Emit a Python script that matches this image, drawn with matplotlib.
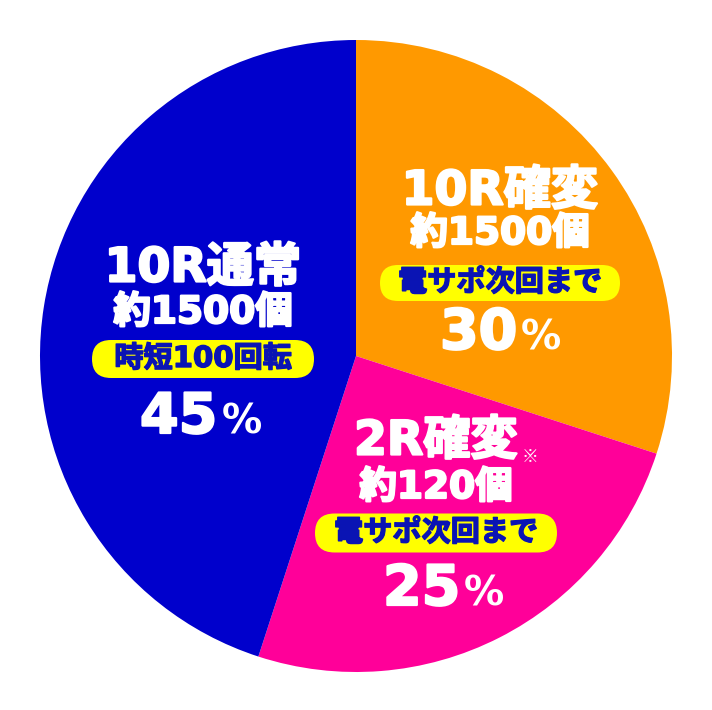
import numpy as np
import matplotlib
matplotlib.use('Agg')
import matplotlib.pyplot as plt
import matplotlib.patheffects as pe
from matplotlib.patches import FancyBboxPatch

# DejaVu for digits/latin (wide & heavy), Noto CJK for kana/kanji
plt.rcParams['font.family'] = ['DejaVu Sans', 'Noto Sans CJK JP']

# data
shares = [30, 25, 45]
names = ['10R確変', '2R確変', '10R通常']
balls = ['約1500個', '約120個', '約1500個']
notes = ['電サポ次回まで', '電サポ次回まで', '時短100回転']
colors = ['#FF9900', '#FF0099', '#0000CC']

W, H = 712, 710
fig = plt.figure(figsize=(W/100, H/100), dpi=100)
ax = fig.add_axes([0, 0, 1, 1])

ax.pie(shares, colors=colors, startangle=90, counterclock=False,
       radius=316, center=(356, H-356), frame=True,
       wedgeprops=dict(linewidth=0))
ax.set_xlim(0, W)
ax.set_ylim(0, H)
ax.axis('off')

# heavier look for the text
thick_w = [pe.withStroke(linewidth=1.6, foreground='white')]
thick_b = [pe.withStroke(linewidth=1.0, foreground='#0A14B4')]

# label layout in image pixels
lay = [
    dict(x=500, yn=192, yb=234, yx=283, bw=240, bh=36, xp=440, xs=521, yp=349),
    dict(x=436, yn=442, yb=488, yx=533, bw=242, bh=39, xp=383, xs=464, yp=605),
    dict(x=203, yn=269, yb=313, yx=359, bw=222, bh=38, xp=140, xs=222, yp=433),
]

for i, p in enumerate(lay):
    x = p['x']
    ax.text(x, H-p['yn'], names[i], color='white', fontsize=34, fontweight='bold',
            ha='center', va='center', path_effects=thick_w)
    ax.text(x, H-p['yb'], balls[i], color='white', fontsize=27, fontweight='bold',
            ha='center', va='center', path_effects=thick_w)
    box = FancyBboxPatch((x - p['bw']/2, H-p['yx'] - p['bh']/2), p['bw'], p['bh'],
                         boxstyle='round,pad=0,rounding_size=%g' % (p['bh']/2),
                         fc='#FFFF00', ec='none')
    ax.add_patch(box)
    ax.text(x, H-p['yx'], notes[i], color='#0A14B4', fontsize=21, fontweight='bold',
            ha='center', va='center', path_effects=thick_b)
    ax.text(p['xp'], H-p['yp'], str(shares[i]), color='white', fontsize=40, fontweight='bold',
            ha='left', va='baseline', path_effects=thick_w)
    ax.text(p['xs'], H-p['yp'], '%', color='white', fontsize=29, fontweight='bold',
            ha='left', va='baseline')

ax.text(530, H-457, '※', color='white', fontsize=12, fontweight='bold',
        ha='center', va='center', family=['Noto Sans CJK JP'])

fig.savefig('out.png', dpi=100)
